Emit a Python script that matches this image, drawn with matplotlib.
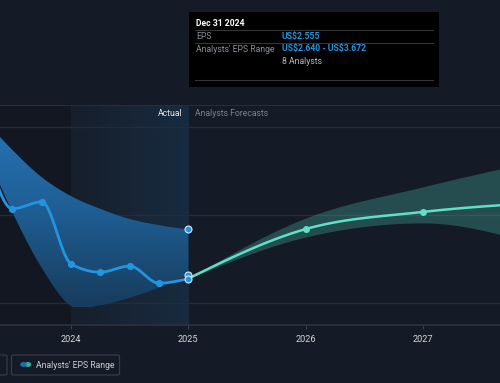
import numpy as np
import matplotlib
matplotlib.use("Agg")
import matplotlib.pyplot as plt
from matplotlib.patches import Rectangle, FancyBboxPatch, PathPatch, Circle
from matplotlib.path import Path
from matplotlib.colors import LinearSegmentedColormap

plt.rcParams['font.family'] = ['Roboto', 'DejaVu Sans']

# ---- data ----
eps_dates = [2023.25, 2023.5, 2023.75, 2024.0, 2024.25, 2024.5, 2024.75, 2025.0]
eps_values = [5.85, 4.14, 4.30, 2.89, 2.70, 2.84, 2.45, 2.555]

range_dates = [2023.25, 2023.5, 2023.75, 2024.0, 2024.25, 2024.5, 2024.75, 2025.0]
range_low = [5.60, 4.07, 2.80, 1.93, 1.95, 2.12, 2.35, 2.640]
range_high = [6.20, 5.48, 4.86, 4.43, 4.14, 3.91, 3.77, 3.672]

fc_dates = [2025.0, 2026.0, 2027.0, 2028.0]
fc_values = [2.555, 3.68, 4.07, 4.28]
fc_low = [2.555, 3.50, 3.82, 3.30]
fc_high = [2.555, 3.93, 4.64, 5.25]

year_ticks = [2024, 2025, 2026, 2027]
y_grid = [2, 4, 6]

# ---- style ----
BG = '#151b26'
BLUE = '#2394df'
TEAL = '#5fe0c8'
W, H = 500, 383
FS = 6.2


def smooth(xs, ys, n=40, mono=True):
    xs = np.asarray(xs, float)
    ys = np.asarray(ys, float)
    k = len(xs)
    h = np.diff(xs)
    s = np.diff(ys) / h
    m = np.zeros(k)
    for i in range(1, k - 1):
        if mono:
            if s[i - 1] * s[i] <= 0:
                m[i] = 0
            else:
                p = (s[i - 1] * h[i] + s[i] * h[i - 1]) / (h[i - 1] + h[i])
                m[i] = (np.sign(s[i - 1]) + np.sign(s[i])) * min(abs(s[i - 1]), abs(s[i]), 0.5 * abs(p))
        else:
            m[i] = (ys[i + 1] - ys[i - 1]) / (xs[i + 1] - xs[i - 1])
    m[0] = (3 * s[0] - m[1]) / 2
    m[-1] = (3 * s[-1] - m[-2]) / 2
    X, Y = [], []
    for i in range(k - 1):
        t = np.linspace(0, 1, n)
        h00 = 2 * t**3 - 3 * t**2 + 1
        h10 = t**3 - 2 * t**2 + t
        h01 = -2 * t**3 + 3 * t**2
        h11 = t**3 - t**2
        X.append(xs[i] + t * h[i])
        Y.append(h00 * ys[i] + h10 * h[i] * m[i] + h01 * ys[i + 1] + h11 * h[i] * m[i + 1])
    return np.concatenate(X), np.concatenate(Y)


fig = plt.figure(figsize=(W / 100, H / 100), dpi=100, facecolor=BG)
ax = fig.add_axes([0, 58 / H, 1, 220 / H])
ax.set_facecolor(BG)
x0 = 2024 - 71 / 117.33
x1 = x0 + 500 / 117.33
ax.set_xlim(x0, x1)
ax.set_ylim(1.5, 6.5)

# past region darker
ax.add_patch(Rectangle((x0, 1.5), 2024 - x0, 5, color='#000000', alpha=0.12, lw=0, zorder=0))
# highlight gradient for last year of actuals
grad = np.linspace(0, 1, 256).reshape(1, -1)
cmap_h = LinearSegmentedColormap.from_list('h', ['#161f2b', '#182b40'])
ax.imshow(grad, extent=[2024, 2025, 1.5, 6.5], aspect='auto', cmap=cmap_h, zorder=0.5)

for g in y_grid:
    ax.axhline(g, color='#252c38', lw=1, zorder=1)
ax.axhline(6.5, color='#2b313d', lw=1.2, zorder=1)

# actual range band with vertical gradient
xl, yl = smooth(range_dates, range_low, mono=False)
xh, yh = smooth(range_dates, range_high, mono=False)
verts = np.concatenate([np.column_stack([xh, yh]), np.column_stack([xl[::-1], yl[::-1]])])
poly = PathPatch(Path(verts, closed=True), facecolor='none', edgecolor='none')
ax.add_patch(poly)
cmap_b = LinearSegmentedColormap.from_list('b', ['#173c5c', '#1f5f95', '#2677bb'])
gv = np.linspace(0, 1, 256).reshape(-1, 1)
im = ax.imshow(gv, extent=[x0, 2025, 1.9, 6.4], origin='lower', aspect='auto', cmap=cmap_b, zorder=2)
im.set_clip_path(poly)

# forecast band
fxl, fyl = smooth(fc_dates, fc_low)
fxh, fyh = smooth(fc_dates, fc_high)
ax.fill_between(fxh, fyl, fyh, color='#4dbfae', alpha=0.3, lw=0, zorder=2)

# lines
ex, ey = smooth(eps_dates, eps_values)
ax.plot(ex, ey, color=BLUE, lw=2, zorder=4, solid_capstyle='round')
ax.plot(eps_dates[1:-1], eps_values[1:-1], 'o', color=BLUE, ms=4.2, zorder=5)
fx, fy = smooth(fc_dates, fc_values)
ax.plot(fx, fy, color=TEAL, lw=1.8, zorder=4)
ax.plot(fc_dates[1:3], fc_values[1:3], 'o', color=TEAL, ms=4, zorder=5)

# hover markers at Dec 31 2024
for v in [range_high[-1], range_low[-1], eps_values[-1]]:
    ax.plot([2025.0], [v], 'o', color=BLUE, ms=5, mec='#dfe8f0', mew=0.8, zorder=6)

for s in ax.spines.values():
    s.set_visible(False)
ax.spines['bottom'].set_visible(True)
ax.spines['bottom'].set_color('#2c3340')
ax.spines['bottom'].set_linewidth(1.2)
ax.set_yticks([])
ax.set_xticks(year_ticks)
ax.set_xticklabels([str(y) for y in year_ticks], color='#d4d7dc', fontsize=6.6)
ax.tick_params(axis='x', length=3, color='#3a414d', pad=4)


def ftxt(x, y, s, **kw):
    fig.text(x / W, 1 - y / H, s, va='center', **kw)


ftxt(183, 113, 'Actual', color='#e6e8eb', fontsize=FS, ha='right')
ftxt(195, 113, 'Analysts Forecasts', color='#7d838d', fontsize=FS, ha='left')

# tooltip
fig.patches.append(Rectangle((189 / W, 1 - 87 / H), 250 / W, 75 / H, transform=fig.transFigure,
                             facecolor='#000000', edgecolor='none', zorder=5))
for yy in [30, 43, 80]:
    fig.lines.append(plt.Line2D([195 / W, 433 / W], [1 - yy / H] * 2, transform=fig.transFigure,
                                color='#333639', lw=0.8, zorder=6))
ftxt(196, 23, 'Dec 31 2024', color='#ffffff', fontsize=FS, fontweight='bold', zorder=7)
ftxt(196, 36.5, 'EPS', color='#8a9099', fontsize=FS, zorder=7)
ftxt(282, 36.5, 'US\\$2.555', color=BLUE, fontsize=FS, fontweight='bold', zorder=7)
ftxt(196, 49, "Analysts' EPS Range", color='#8a9099', fontsize=FS, zorder=7)
ftxt(282, 49, 'US\\$2.640 - US\\$3.672', color=BLUE, fontsize=FS, fontweight='bold', zorder=7)
ftxt(282, 61.5, '8 Analysts', color='#b5b9bf', fontsize=FS, zorder=7)

# legend
fig.patches.append(FancyBboxPatch((11.5 / W, 1 - 375 / H), 108 / W, 20 / H, transform=fig.transFigure,
                                  boxstyle='round,pad=0,rounding_size=0.004', facecolor='none',
                                  edgecolor='#363c47', lw=0.9))
fig.patches.append(FancyBboxPatch((-20 / W, 1 - 375 / H), 27 / W, 20 / H, transform=fig.transFigure,
                                  boxstyle='round,pad=0,rounding_size=0.004', facecolor='none',
                                  edgecolor='#363c47', lw=0.9))
fig.patches.append(Circle((28 / W, 1 - 364.5 / H), 3.3 / W, transform=fig.transFigure,
                          facecolor='#3aa796', edgecolor='none'))
fig.patches.append(Circle((23.5 / W, 1 - 364.5 / H), 3.3 / W, transform=fig.transFigure,
                          facecolor='#1f6fae', edgecolor='none'))
ftxt(36, 365, "Analysts' EPS Range", color='#c9cdd3', fontsize=FS)

fig.savefig('out.png', dpi=100, facecolor=BG)
